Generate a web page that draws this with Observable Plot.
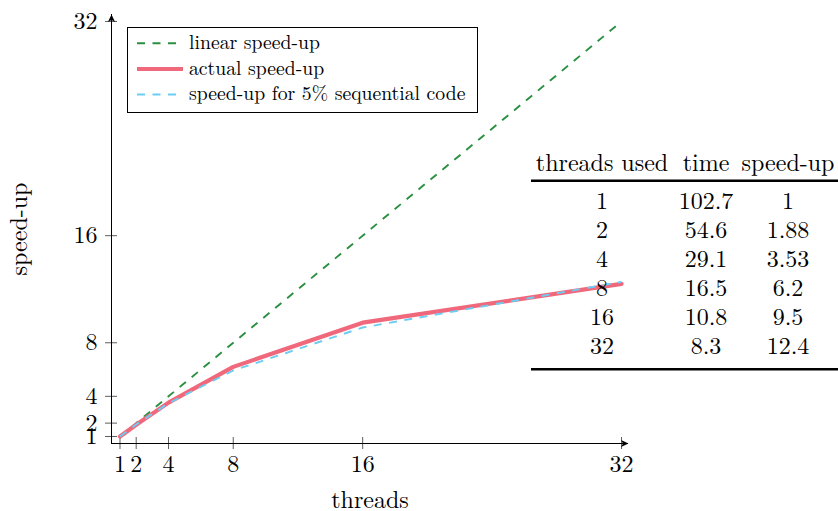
<!DOCTYPE html>
<html>
<head>
<meta charset="utf-8">
<script src="https://cdn.jsdelivr.net/npm/d3@7"></script>
<script src="https://cdn.jsdelivr.net/npm/@observablehq/plot@0.6"></script>
<style>
  html, body { margin: 0; padding: 0; background: white; }
  #wrap { position: relative; width: 838px; height: 511px; overflow: hidden; }
  #wrap svg, #wrap text { font-family: 'Latin Modern Roman', 'Liberation Serif', serif !important; }
  #overlay { position: absolute; left: 0; top: 0; pointer-events: none; }
</style>
</head>
<body>
<div id="wrap"></div>
<script>
// ---- data ----
const threads = [1, 2, 4, 8, 16, 32];
const linearSpeedup = [1, 2, 4, 8, 16, 32];
const actualSpeedup = [1, 1.88, 3.53, 6.2, 9.5, 12.4];
const amdahlSpeedup = [1, 1.9, 3.48, 5.93, 9.14, 12.55];
const xTicks = [1, 2, 4, 8, 16, 32];
const yTicks = [1, 2, 4, 8, 16, 32];
const tableHeaders = ["threads used", "time", "speed-up"];
const tableThreads = ["1", "2", "4", "8", "16", "32"];
const tableTimes = ["102.7", "54.6", "29.1", "16.5", "10.8", "8.3"];
const tableSpeedups = ["1", "1.88", "3.53", "6.2", "9.5", "12.4"];
const legendLabels = ["linear speed-up", "actual speed-up", "speed-up for 5% sequential code"];
const xLabel = "threads";
const yLabel = "speed-up";
const xMin = 0.475, xMax = 32.43;
const yMin = 0.477, yMax = 32.52;

// ---- styles ----
const FONT = "'Latin Modern Roman', 'Liberation Serif', serif";
const GREEN = "#2a9040";
const RED = "#f0687b";
const BLUE = "#6bcdf4";
const DASH = "8,7.5";
const styles = [
  {stroke: GREEN, strokeWidth: 1.9, dash: DASH},
  {stroke: RED, strokeWidth: 4.2, dash: null},
  {stroke: BLUE, strokeWidth: 1.9, dash: DASH}
];

const rows = threads.map((t, i) => ({
  threads: t, linear: linearSpeedup[i], actual: actualSpeedup[i], amdahl: amdahlSpeedup[i]
}));

const stealth = {
  draw(ctx) {
    ctx.moveTo(0, 0);
    ctx.lineTo(-7.5, -3.6);
    ctx.lineTo(-5.5, 0);
    ctx.lineTo(-7.5, 3.6);
    ctx.closePath();
  }
};
const arrowHeads = [
  {x: xMax, y: yMin, rot: 0},
  {x: xMin, y: yMax, rot: -90}
];

const chart = Plot.plot({
  width: 838,
  height: 511,
  marginLeft: 111,
  marginRight: 210,
  marginTop: 14,
  marginBottom: 68,
  x: {domain: [xMin, xMax]},
  y: {domain: [yMin, yMax]},
  style: {fontFamily: FONT, fontSize: "24px", color: "black", background: "white", overflow: "visible"},
  marks: [
    // ticks crossing the axis lines
    Plot.ruleX(xTicks, {x: d => d, y1: yMin, y2: yMin, insetTop: -6, insetBottom: -6, stroke: "#333", strokeWidth: 0.8}),
    Plot.ruleY(yTicks, {y: d => d, x1: xMin, x2: xMin, insetLeft: -6, insetRight: -6, stroke: "#333", strokeWidth: 0.8}),
    // axis lines with arrow heads
    Plot.ruleY([yMin], {x1: xMin, x2: xMax, stroke: "black", strokeWidth: 1}),
    Plot.ruleX([xMin], {y1: yMin, y2: yMax, stroke: "black", strokeWidth: 1}),
    Plot.dot(arrowHeads, {x: "x", y: "y", rotate: "rot", symbol: stealth, fill: "black", stroke: "none", r: 3}),
    // tick labels
    Plot.axisX(xTicks, {anchor: "bottom", tickSize: 0, tickPadding: 11, label: null, fontSize: 24}),
    Plot.axisY(yTicks, {anchor: "left", tickSize: 0, tickPadding: 14, label: null, fontSize: 24}),
    // axis labels
    Plot.text([xLabel], {frameAnchor: "bottom", textAnchor: "middle", lineAnchor: "middle", text: d => d, dy: 57, fontSize: 24}),
    Plot.text([yLabel], {frameAnchor: "left", textAnchor: "middle", lineAnchor: "middle", text: d => d, rotate: -90, dx: -92, fontSize: 24}),
    // series
    Plot.line(rows, {x: "threads", y: "linear", stroke: GREEN, strokeWidth: 1.9, strokeDasharray: DASH, strokeLinecap: "butt"}),
    Plot.line(rows, {x: "threads", y: "actual", stroke: RED, strokeWidth: 4.2, strokeLinejoin: "miter"}),
    Plot.line(rows, {x: "threads", y: "amdahl", stroke: BLUE, strokeWidth: 1.9, strokeDasharray: DASH, strokeLinecap: "butt"})
  ]
});

const wrap = document.getElementById("wrap");
wrap.appendChild(chart);

// ---- overlay: legend and table ----
const ov = d3.select(wrap).append("svg")
  .attr("id", "overlay")
  .attr("width", 838).attr("height", 511)
  .attr("font-family", FONT);

// legend
const lg = ov.append("g");
lg.append("rect")
  .attr("x", 127.5).attr("y", 27.5).attr("width", 350).attr("height", 85)
  .attr("fill", "white").attr("stroke", "black").attr("stroke-width", 1);
const legendY = [43.3, 69, 94.5];
legendLabels.forEach((label, i) => {
  const s = styles[i];
  lg.append("line")
    .attr("x1", 137).attr("x2", 183).attr("y1", legendY[i]).attr("y2", legendY[i])
    .attr("stroke", s.stroke).attr("stroke-width", s.strokeWidth)
    .attr("stroke-dasharray", s.dash).attr("stroke-linecap", "butt");
  lg.append("text")
    .attr("x", 189).attr("y", legendY[i] + 5.6)
    .attr("font-size", 19.7)
    .text(label);
});

// table
const tb = ov.append("g").attr("font-size", 24);
const colX = [602, 706, 788];
tableHeaders.forEach((h, j) => {
  tb.append("text").attr("x", colX[j]).attr("y", 170.5).attr("text-anchor", "middle").text(h);
});
tb.append("line").attr("x1", 531).attr("x2", 845).attr("y1", 180.7).attr("y2", 180.7)
  .attr("stroke", "black").attr("stroke-width", 2.6);
const rowBase = [209, 238, 267, 296, 325, 354];
const cols = [tableThreads, tableTimes, tableSpeedups];
cols.forEach((col, j) => {
  col.forEach((v, i) => {
    tb.append("text").attr("x", colX[j]).attr("y", rowBase[i]).attr("text-anchor", "middle").text(v);
  });
});
tb.append("line").attr("x1", 531).attr("x2", 845).attr("y1", 369.3).attr("y2", 369.3)
  .attr("stroke", "black").attr("stroke-width", 2.6);
</script>
</body>
</html>
